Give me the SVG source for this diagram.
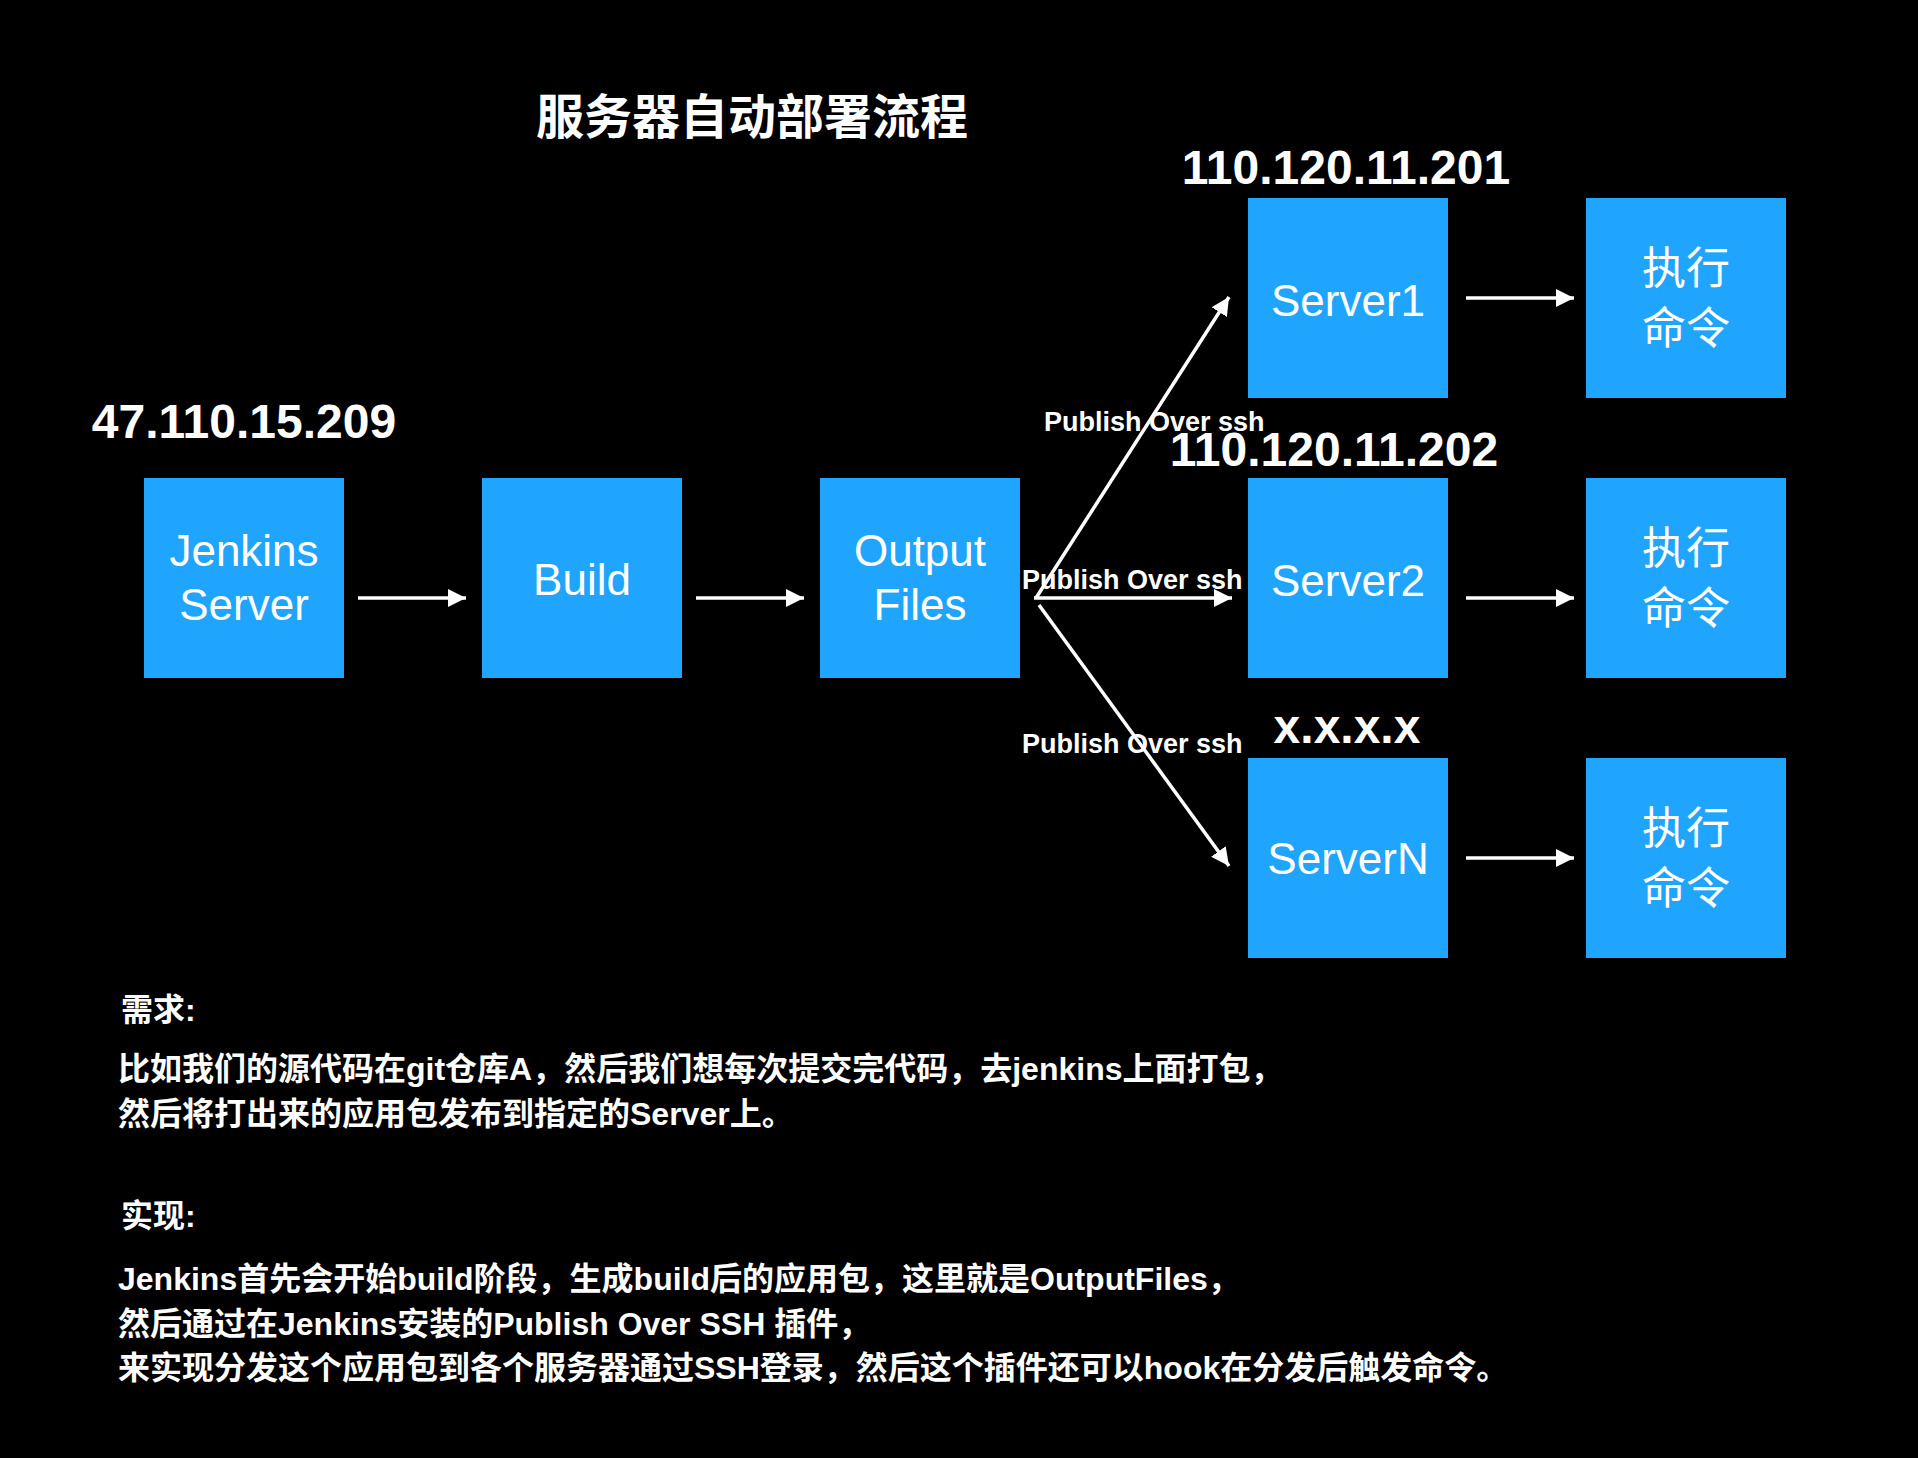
<svg xmlns="http://www.w3.org/2000/svg" width="1918" height="1458" viewBox="0 0 1918 1458">
<defs>
<style>
.box{fill:#1FA5FD}
.lbl{font-family:"Liberation Sans","Noto Sans CJK SC",sans-serif;font-size:44px;fill:#fff;text-anchor:middle}
.cjk{font-family:"Noto Sans CJK SC",sans-serif;font-size:44px;fill:#fff;text-anchor:middle}
.ip{font-family:"Liberation Sans",sans-serif;font-size:48px;font-weight:bold;fill:#fff;text-anchor:middle}
.pub{font-family:"Liberation Sans",sans-serif;font-size:27px;font-weight:bold;fill:#fff}
.title{font-family:"Noto Sans CJK SC",sans-serif;font-size:48px;font-weight:bold;fill:#fff}
.body{font-family:"Liberation Sans","Noto Sans CJK SC",sans-serif;font-size:32px;font-weight:bold;fill:#fff}
.conn{stroke:#fff;stroke-width:3.5;fill:none}
</style>
<marker id="ah" markerUnits="userSpaceOnUse" markerWidth="18" markerHeight="18" refX="18" refY="9" orient="auto" viewBox="0 0 18 18">
<path d="M0,0 L18,9 L0,18 z" fill="#fff"/>
</marker>
</defs>
<rect width="1918" height="1458" fill="#000"/>
<text class="title" x="536" y="134">服务器自动部署流程</text>
<text class="ip" x="244" y="438">47.110.15.209</text>
<text class="ip" x="1346" y="184">110.120.11.201</text>
<text class="ip" x="1334" y="466">110.120.11.202</text>
<text class="ip" x="1347" y="743">x.x.x.x</text>
<g id="jenkins"><rect class="box" x="144" y="478" width="200" height="200"/><text class="lbl" x="244" y="566">Jenkins</text><text class="lbl" x="244" y="620">Server</text></g>
<g id="build"><rect class="box" x="482" y="478" width="200" height="200"/><text class="lbl" x="582" y="595">Build</text></g>
<g id="output"><rect class="box" x="820" y="478" width="200" height="200"/><text class="lbl" x="920" y="566">Output</text><text class="lbl" x="920" y="620">Files</text></g>
<g id="server1"><rect class="box" x="1248" y="198" width="200" height="200"/><text class="lbl" x="1348" y="316">Server1</text></g>
<g id="server2"><rect class="box" x="1248" y="478" width="200" height="200"/><text class="lbl" x="1348" y="596">Server2</text></g>
<g id="serverN"><rect class="box" x="1248" y="758" width="200" height="200"/><text class="lbl" x="1348" y="874">ServerN</text></g>
<g id="exec1"><rect class="box" x="1586" y="198" width="200" height="200"/><text class="cjk" x="1686" y="284">执行</text><text class="cjk" x="1686" y="344">命令</text></g>
<g id="exec2"><rect class="box" x="1586" y="478" width="200" height="200"/><text class="cjk" x="1686" y="564">执行</text><text class="cjk" x="1686" y="624">命令</text></g>
<g id="execN"><rect class="box" x="1586" y="758" width="200" height="200"/><text class="cjk" x="1686" y="844">执行</text><text class="cjk" x="1686" y="904">命令</text></g>
<g id="connectors">
<line class="conn" x1="358" y1="598" x2="466" y2="598" marker-end="url(#ah)"/>
<line class="conn" x1="696" y1="598" x2="804" y2="598" marker-end="url(#ah)"/>
<line class="conn" x1="1036" y1="598" x2="1229" y2="297" marker-end="url(#ah)"/>
<line class="conn" x1="1034" y1="598" x2="1232" y2="598" marker-end="url(#ah)"/>
<line class="conn" x1="1039" y1="605" x2="1229" y2="866" marker-end="url(#ah)"/>
<line class="conn" x1="1466" y1="298" x2="1574" y2="298" marker-end="url(#ah)"/>
<line class="conn" x1="1466" y1="598" x2="1574" y2="598" marker-end="url(#ah)"/>
<line class="conn" x1="1466" y1="858" x2="1574" y2="858" marker-end="url(#ah)"/>
<text class="pub" x="1044" y="431">Publish Over ssh</text>
<text class="pub" x="1022" y="589">Publish Over ssh</text>
<text class="pub" x="1022" y="753">Publish Over ssh</text>
</g>
<text class="body" x="121" y="1021">需求:</text>
<text class="body" x="118" y="1080">比如我们的源代码在git仓库A，然后我们想每次提交完代码，去jenkins上面打包，</text>
<text class="body" x="118" y="1125">然后将打出来的应用包发布到指定的Server上。</text>
<text class="body" x="121" y="1227">实现:</text>
<text class="body" x="118" y="1290">Jenkins首先会开始build阶段，生成build后的应用包，这里就是OutputFiles，</text>
<text class="body" x="118" y="1335">然后通过在Jenkins安装的Publish Over SSH 插件，</text>
<text class="body" x="118" y="1379">来实现分发这个应用包到各个服务器通过SSH登录，然后这个插件还可以hook在分发后触发命令。</text>
</svg>
